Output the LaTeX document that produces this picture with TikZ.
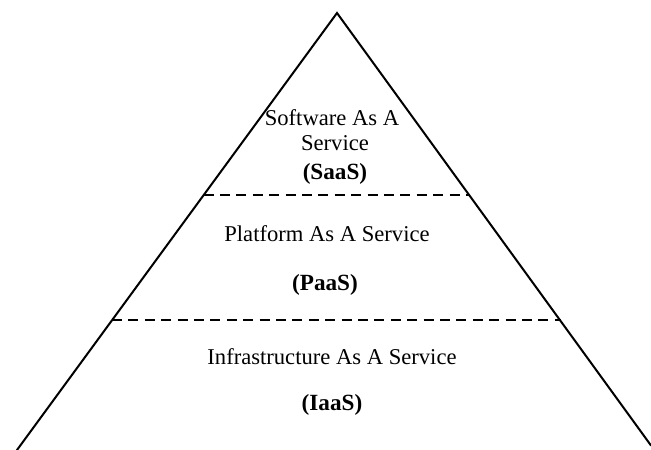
\documentclass[tikz,border=0pt]{standalone}
\usepackage{fontspec}
\setmainfont{Liberation Serif}
\begin{document}
\begin{tikzpicture}[x=1pt,y=-1pt,
  edge/.style={line width=2pt,line cap=round,line join=miter},
  divider/.style={line width=1.7pt,dash pattern=on 10pt off 6.4pt},
  label/.style={anchor=base,inner sep=0pt,font=\fontsize{22.6}{26}\selectfont},
  abbr/.style={anchor=base,inner sep=0pt,font=\fontsize{23.2}{26}\selectfont\bfseries}]
\useasboundingbox (0,0) rectangle (651,450);
\coordinate (apex) at (337,13);
\coordinate (bl) at (17,450);
\coordinate (br) at (651,445.5);
\coordinate (d1l) at (203.5,195);
\coordinate (d1r) at (469.5,195);
\coordinate (d2l) at (112,320);
\coordinate (d2r) at (560.5,320);
\draw[edge] (bl) -- (apex) -- (br);
\draw[divider] (d1l) -- (d1r);
\draw[divider] (d2l) -- (d2r);
\node[label] (s1) at (332,125.5) {Software As A};
\node[label] (s2) at (335,150) {Service};
\node[abbr] (s3) at (335,179) {(SaaS)};
\node[label] (p1) at (327,241) {Platform As A Service};
\node[abbr] (p2) at (325,290) {(PaaS)};
\node[label] (i1) at (332,364) {Infrastructure As A Service};
\node[abbr] (i2) at (332,410) {(IaaS)};
\end{tikzpicture}
\end{document}
